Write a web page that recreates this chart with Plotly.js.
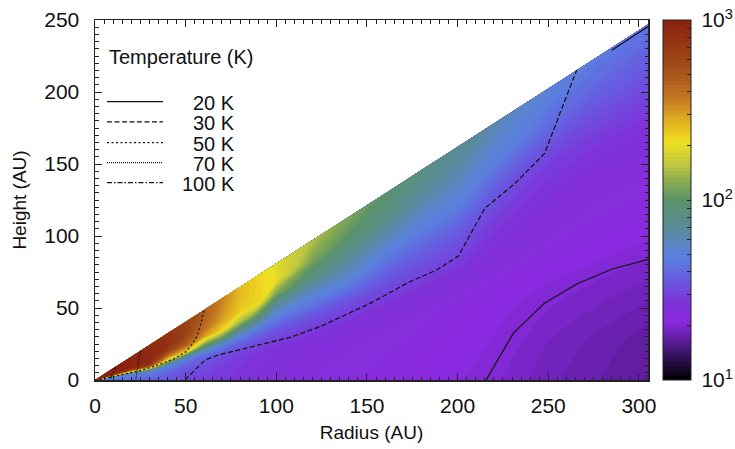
<!DOCTYPE html>
<html>
<head>
<meta charset="utf-8">
<script src="https://cdn.plot.ly/plotly-3.0.1.min.js"></script>
<style>html,body{margin:0;padding:0;background:#fff;}#chart{width:735px;height:449px;}</style>
</head>
<body>
<div id="chart"></div>
<script>
// ---- data ----
// radial columns (AU) and normalised heights z/r of the temperature grid
const radii = [0, 10, 20, 30, 40, 50, 60, 70, 80, 90, 100, 120, 140, 160, 180, 200, 225, 250, 275, 305];
const heightRatio = [0, 0.1, 0.2, 0.25, 0.3, 0.35, 0.4, 0.5, 0.6, 0.7, 0.81];
// temperature (K), one row per radius, one value per heightRatio
const temperature = [
  [45, 48, 55, 90, 250, 600, 900, 1000, 1000, 1000, 1000],
  [45, 48, 55, 90, 250, 600, 900, 1000, 1000, 1000, 1000],
  [42, 45, 52, 80, 250, 600, 850, 950, 950, 950, 950],
  [38, 42, 50, 120, 350, 750, 850, 900, 900, 880, 850],
  [35, 38, 45, 60, 100, 220, 350, 650, 800, 800, 750],
  [30, 33, 38, 43, 52, 110, 250, 480, 600, 650, 650],
  [29, 31, 34, 38, 45, 65, 110, 300, 400, 450, 480],
  [28, 28.5, 31, 34, 40, 53, 85, 230, 300, 330, 350],
  [27, 27.5, 29, 31, 36, 44, 60, 140, 240, 255, 260],
  [26, 26.5, 27.5, 29, 33, 39, 48, 100, 220, 225, 225],
  [25, 25.5, 26.5, 28, 31, 35, 42, 62, 120, 200, 190],
  [24, 24.5, 25.5, 26.5, 29, 33, 38, 55, 85, 120, 150],
  [23, 23.5, 24.5, 25.5, 27.5, 30, 35, 52, 70, 95, 120],
  [22.5, 23, 23.5, 24.5, 26, 28.5, 32, 42, 58, 80, 100],
  [22, 22, 23, 23.5, 25, 27, 30, 38, 50, 67, 85],
  [21, 21.5, 22, 22.5, 24, 26, 28, 35, 47, 60, 75],
  [20, 20.5, 21, 21.5, 22.5, 24, 25.5, 28, 35, 48, 60],
  [18.5, 19, 20, 20.5, 21.5, 22.5, 24, 26, 29, 40, 52],
  [17.5, 18, 19.3, 20, 21, 22, 23, 25, 28, 36, 47],
  [16.5, 17, 18.5, 19.5, 20.5, 21.5, 22.5, 24.5, 27.5, 35, 44]
];

// contour lines: radius (AU) / height (AU)
const c20r = [215.7, 230.7, 247.7, 265.7, 285, 305, null, 285, 305];
const c20z = [0, 32.4, 53.2, 66.7, 76.9, 83.8, null, 229, 245.5];
const c30r = [49.6, 55.2, 60.7, 68, 79, 92, 102, 107.6, 124, 151.7, 173.7, 188.5, 200.4, 206.8, 215, 231.7, 248, 257, 265.7];
const c30z = [0, 6.9, 13.9, 17.4, 20.8, 24.3, 27.8, 29.6, 37, 53.2, 68.3, 76.4, 86.1, 100.7, 119.2, 136.6, 157.4, 187, 215.3];
const c50r = [0, 3.7, 8.3, 14.7, 24.8, 34, 43.2, 50, 53.3, 56.1, 57.9, 59.2, 60.3];
const c50z = [0, 0.5, 1.9, 3.5, 6.5, 10, 14.5, 19.5, 24.3, 30, 37, 44, 48.6];
const c70r = [22.5, 23.2, 24, 25];
const c70z = [0.5, 5, 12, 20.3];
const c100r = [8.5, 9.5, 11.3];
const c100z = [0.8, 4, 9];

const legendLabels = ['20 K', '30 K', '50 K', '70 K', '100 K'];
const colorbarTickValues = [10, 20, 30, 40, 50, 60, 70, 80, 90, 100, 200, 300, 400, 500, 600, 700, 800, 900, 1000];
const colorbarMajor = {10: '10<sup>1</sup>', 100: '10<sup>2</sup>', 1000: '10<sup>3</sup>'};

// ---- styling ----
const FONT = 'Liberation Sans, Arial, Helvetica, sans-serif';
const dashes = ['solid', '5px,2.5px', '2px,2.5px', '1px,1px', '5px,2px,1.5px,2px'];
const lineSets = [[c20r, c20z], [c30r, c30z], [c50r, c50z], [c70r, c70z], [c100r, c100z]];

const colorscale = [
  [0, '#000000'], [0.035, '#1a0a30'], [0.08, '#401570'], [0.125, '#6a20b0'],
  [0.165, '#8a2ae0'], [0.21, '#8030d8'], [0.27, '#6a55e0'], [0.33, '#5c7ae0'],
  [0.36, '#5a84d4'], [0.42, '#5a8a9a'], [0.5, '#5a9468'], [0.55, '#88aa50'],
  [0.6, '#c0c840'], [0.66, '#f0e020'], [0.72, '#e0b020'], [0.78, '#c47822'],
  [0.875, '#a04a18'], [1, '#8a2010']
];

const xGrid = heightRatio.map(() => radii.slice());
const yGrid = heightRatio.map(h => radii.map(r => r * h));
const zGrid = heightRatio.map((h, j) => radii.map((r, i) => Math.log10(temperature[i][j])));

const hiddenAxis = {
  showgrid: false, showline: false, showticklabels: 'none', startline: false, endline: false,
  minorgridcount: 0, smoothing: 0, gridcolor: 'rgba(0,0,0,0)', linecolor: 'rgba(0,0,0,0)'
};

const traces = [
  {type: 'carpet', carpet: 'disk', a: radii, b: heightRatio, x: xGrid, y: yGrid,
   aaxis: hiddenAxis, baxis: hiddenAxis, hoverinfo: 'skip'},
  {type: 'contourcarpet', carpet: 'disk', z: zGrid, a: radii, b: heightRatio,
   autocontour: false, zmin: 1, zmax: 3,
   contours: {start: 1, end: 3, size: 0.02, coloring: 'fill', showlines: false},
   line: {width: 0}, colorscale: colorscale,
   colorbar: {
     x: (663 - 95) / 553, xanchor: 'left', xpad: 0, ypad: 0, y: 0.5, yanchor: 'middle',
     len: 1, lenmode: 'fraction', thickness: 28, thicknessmode: 'pixels',
     outlinewidth: 1, outlinecolor: '#222',
     tickmode: 'array', tickvals: colorbarTickValues.map(v => Math.log10(v)),
     ticktext: colorbarTickValues.map(v => colorbarMajor[v] ? '\u2005' + colorbarMajor[v] : ''),
     ticks: 'inside', ticklen: 4, tickcolor: '#222', tickwidth: 1,
     tickfont: {family: FONT, size: 21, color: '#111'}
   }}
];
lineSets.forEach((s, k) => {
  traces.push({type: 'scatter', mode: 'lines', x: s[0], y: s[1], name: legendLabels[k],
    line: {color: '#111', width: 1.2, dash: dashes[k]}, showlegend: false, connectgaps: false, hoverinfo: 'skip'});
});

const shapes = [];
const annotations = [{xref: 'x', yref: 'y', x: 6.8, y: 224.3, xanchor: 'left', yanchor: 'middle',
  text: 'Temperature (K)', showarrow: false, font: {family: FONT, size: 20, color: '#111'}}];
const sampleY = [193.3, 179.2, 164.8, 150.9, 137];
legendLabels.forEach((lab, k) => {
  shapes.push({type: 'line', xref: 'x', yref: 'y', x0: 6.6, x1: 37.5, y0: sampleY[k], y1: sampleY[k],
    line: {color: '#111', width: 1.2, dash: dashes[k]}});
  annotations.push({xref: 'x', yref: 'y', x: 78.3, y: sampleY[k] - 1, xanchor: 'right', yanchor: 'middle',
    text: lab, showarrow: false, font: {family: FONT, size: 20, color: '#111'}});
});

const axisCommon = {
  showgrid: false, zeroline: false, showline: true, linecolor: '#222', linewidth: 1.5,
  mirror: 'allticks', ticks: 'inside', ticklen: 7, tickwidth: 1, tickcolor: '#222',
  tickfont: {family: FONT, size: 21, color: '#111'},
  minor: {ticks: 'inside', dtick: 5, ticklen: 3.5, tickwidth: 1, tickcolor: '#222'}
};

const layout = {
  width: 735, height: 449,
  margin: {l: 95, r: 87, t: 20, b: 69, autoexpand: false},
  paper_bgcolor: '#fff', plot_bgcolor: '#fff',
  showlegend: false,
  font: {family: FONT, size: 18, color: '#111'},
  xaxis: Object.assign({}, axisCommon, {range: [0, 305], tick0: 0, dtick: 50, ticklabelstandoff: 6,
    title: {text: 'Radius (AU)', font: {family: FONT, size: 19, color: '#111'}, standoff: 10}}),
  yaxis: Object.assign({}, axisCommon, {range: [0, 250], tick0: 0, dtick: 50, ticklabelstandoff: 10,
    title: {text: 'Height (AU)', font: {family: FONT, size: 19, color: '#111'}, standoff: 12}}),
  shapes: shapes,
  annotations: annotations
};

Plotly.newPlot('chart', traces, layout, {staticPlot: true, displayModeBar: false});
</script>
</body>
</html>
